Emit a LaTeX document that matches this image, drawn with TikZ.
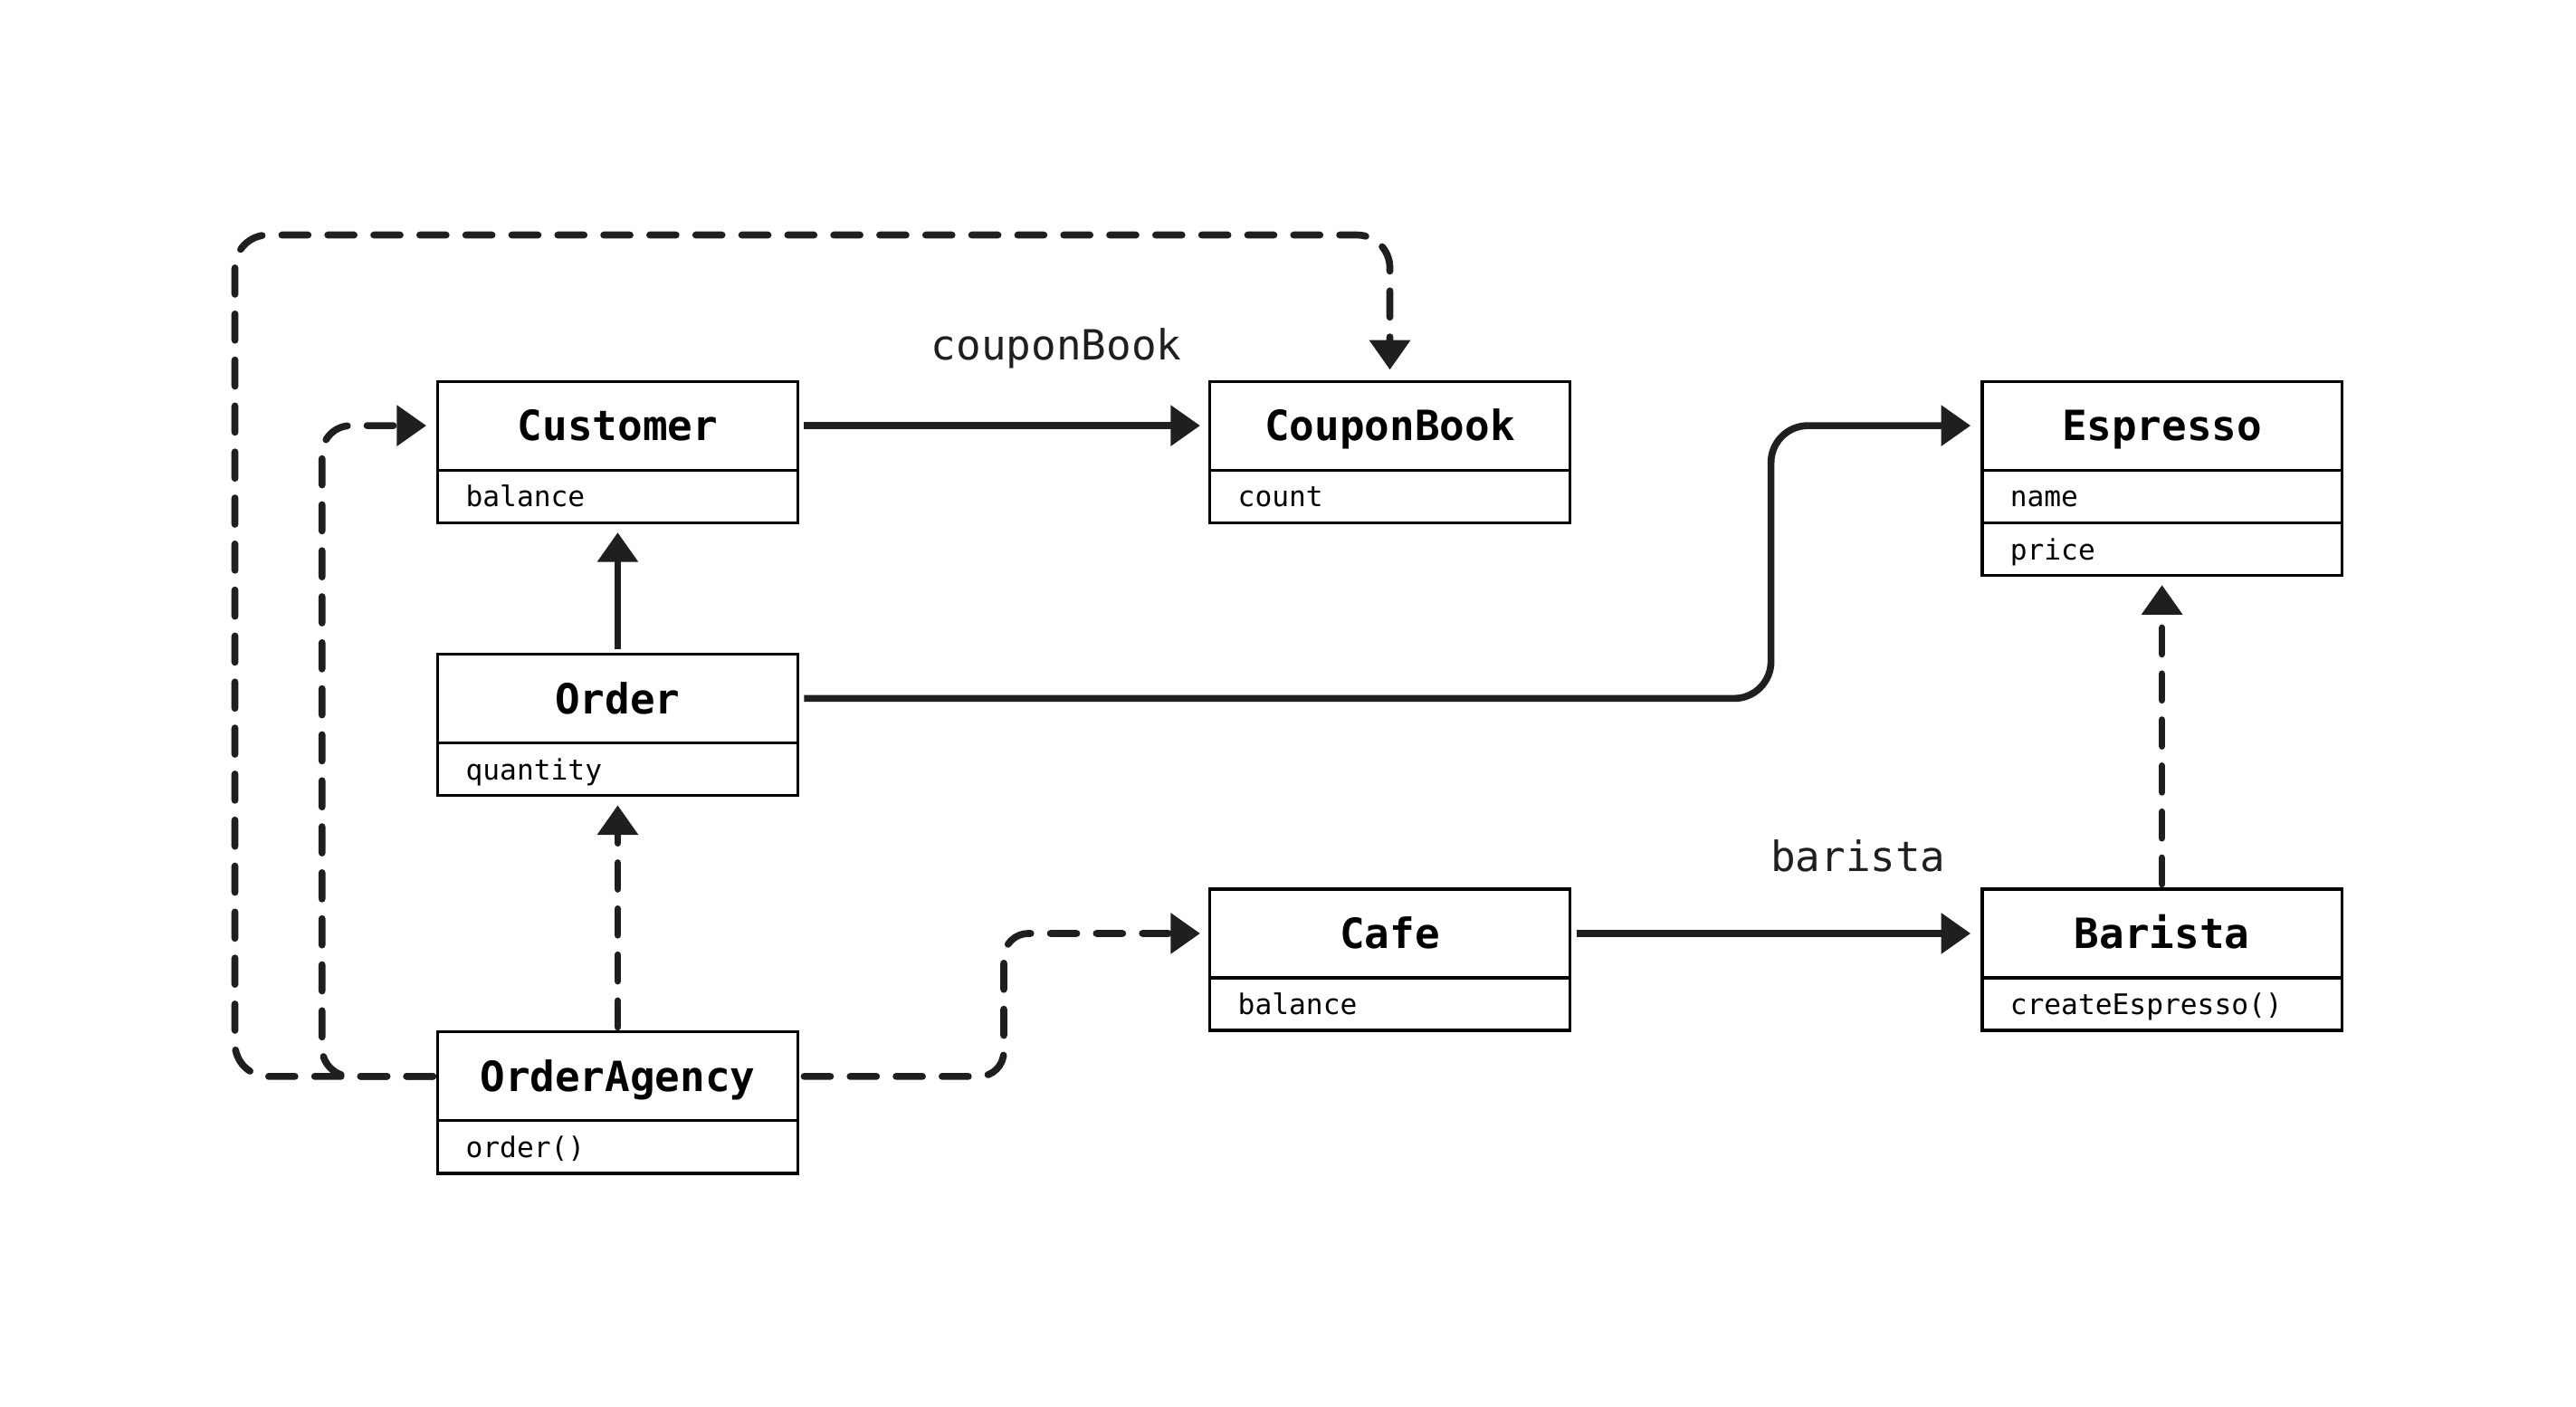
\documentclass[tikz,border=0pt]{standalone}
\usepackage{fontspec}
\setmonofont{DejaVu Sans Mono}
\usetikzlibrary{arrows.meta,positioning}

\tikzset{
  cls/.style={draw, line width=1pt, outer sep=0pt, inner sep=0pt,
    minimum width=4.38cm, minimum height=1.08cm, text height=10.5pt, text depth=0pt,
    font=\ttfamily\bfseries\fontsize{14.4}{16}\selectfont},
  fld/.style={draw, line width=1pt, outer sep=0pt, inner xsep=0.34cm, inner ysep=0pt,
    text width=3.70cm, minimum height=0.64cm, align=left, text height=7.4pt, text depth=0pt,
    font=\ttfamily\fontsize{9.8}{11}\selectfont},
  link/.style={line width=2.4pt, color=black!88, -{Triangle[length=0.36cm,width=0.48cm]}},
  uses/.style={link, dash pattern=on 0.32cm off 0.24cm, line cap=round},
  lbl/.style={font=\ttfamily\fontsize{14.4}{16}\selectfont, text=black!88},
}

\begin{document}
\begin{tikzpicture}[x=0.02cm, y=-0.02cm]
	\useasboundingbox (0,0) rectangle (1568,856);

	% classes
	\node[cls] (cust) at (376,259) {Customer};
	\node[fld, below=0pt of cust] (custF) {balance};

	\node[cls] (cpn) at (846,259) {CouponBook};
	\node[fld, below=0pt of cpn] (cpnF) {count};

	\node[cls] (esp) at (1316,259) {Espresso};
	\node[fld, below=0pt of esp] (espF) {name};
	\node[fld, below=0pt of espF] (espG) {price};

	\node[cls] (ord) at (376,425) {Order};
	\node[fld, below=0pt of ord] (ordF) {quantity};

	\node[cls] (cafe) at (846,568) {Cafe};
	\node[fld, below=0pt of cafe] (cafeF) {balance};

	\node[cls] (bar) at (1316,568) {Barista};
	\node[fld, below=0pt of bar] (barF) {createEspresso()};

	\node[cls] (agency) at (376,655) {OrderAgency};
	\node[fld, below=0pt of agency] (agencyF) {order()};

	% labels
	\node[lbl] (cpnLbl) at (643,212) {couponBook};
	\node[lbl] (barLbl) at (1131,521) {barista};

	% bends
	\coordinate (espBend) at (1078,425);
	\coordinate (cafeBend) at (611,655);
	\coordinate (innerBend) at (196,259);
	\coordinate (outerBend) at (143,143);

	% solid links
	\draw[link, shorten <=0.08cm, shorten >=0.12cm] (cust.east) -- (cpn.west);
	\draw[link, shorten <=0.06cm, shorten >=0.12cm] (ord.north) -- (custF.south);
	\draw[link, rounded corners=0.45cm, shorten <=0.08cm, shorten >=0.14cm] (ord.east) -- (espBend) |- (esp.west);
	\draw[link, shorten <=0.08cm, shorten >=0.14cm] (cafe.east) -- (bar.west);

	% dashed links
	\draw[uses, shorten <=0.06cm, shorten >=0.12cm] (agency.north) -- (ordF.south);
	\draw[uses, rounded corners=0.3cm, shorten <=0.08cm, shorten >=0.12cm] (agency.east) -- (cafeBend) |- (cafe.west);
	\draw[uses, shorten <=0.06cm, shorten >=0.12cm] (bar.north) -- (espG.south);
	\draw[uses, rounded corners=0.35cm, shorten <=0.06cm, shorten >=0.14cm] (agency.west) -| (innerBend) -- (cust.west);
	\draw[uses, rounded corners=0.4cm, shorten <=0.06cm, shorten >=0.14cm] (agency.west) -| (outerBend) -| (cpn.north);
\end{tikzpicture}
\end{document}
